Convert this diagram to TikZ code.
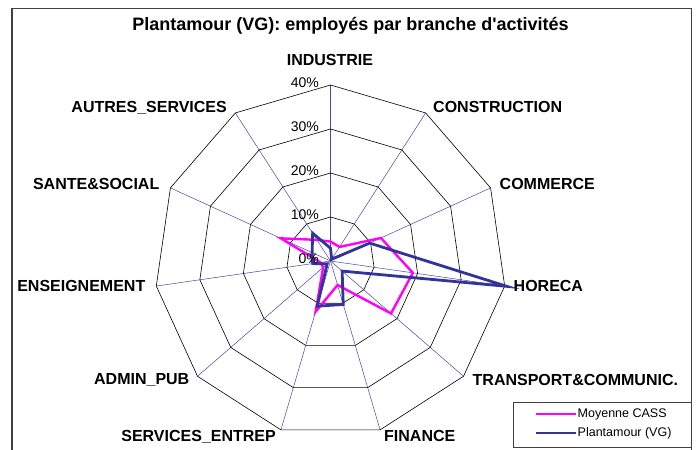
\documentclass[tikz,border=0pt]{standalone}
\usepackage{fontspec}
\setmainfont{Liberation Sans}[Ligatures=TeXOff]
\usetikzlibrary{calc}
\definecolor{axisblue}{HTML}{4848A8}
\definecolor{dataBlue}{HTML}{333399}
\definecolor{dataMag}{HTML}{FF00FF}
\definecolor{frameGray}{HTML}{404040}
\tikzset{
  catlabel/.style={font=\bfseries\fontsize{16}{18}\selectfont, inner sep=0pt},
  pctlabel/.style={font=\fontsize{14}{16}\selectfont, inner sep=0pt, anchor=east},
  leglabel/.style={font=\fontsize{12.5}{14}\selectfont, inner sep=0pt, anchor=west},
  gridring/.style={black, line width=0.6pt},
  axisline/.style={axisblue, line width=0.5pt},
  magline/.style={dataMag, line width=2.4pt, line join=miter},
  blueline/.style={dataBlue, line width=2.8pt, line join=miter},
}
\begin{document}
\begin{tikzpicture}[x=1pt,y=-1pt]
\useasboundingbox (0,0) rectangle (697,450);
\fill[white] (0,0) rectangle (697,450);
% outer frame
\draw[frameGray, line width=1.3pt] (12,455) -- (12,8.5) -- (691.5,8.5) -- (691.5,455);
% title
\node[font=\bfseries\fontsize{18}{20}\selectfont, inner sep=0pt] (title) at (350.5,25.5) {Plantamour (VG): employés par branche d'activités};
% chart
\begin{scope}[shift={(330.5,261)}]
  \coordinate (C) at (0,0);
  \foreach \k in {0,...,10}
    \draw[axisline] (C) -- ({\k*360/11-90}:176);
  \foreach \r in {44,88,132,176}
    \draw[gridring] (-90:\r) \foreach \k in {1,...,10}{ -- ({\k*360/11-90}:\r)} -- cycle;
  % Moyenne CASS
  \draw[magline] (-90:19.4) -- (-57.27:16.7) -- (-24.55:55.4) -- (8.18:83.2)
    -- (40.91:80.1) -- (73.64:25.1) -- (106.36:52.8) -- (139.09:9.7)
    -- (171.82:10.1) -- (204.55:54.6) -- (237.27:25.1) -- cycle;
  % Plantamour (VG)
  \draw[blueline] (-90:12.8) -- (-57.27:2.2) -- (-24.55:43.1) -- (8.18:178.2)
    -- (40.91:15.4) -- (73.64:45.3) -- (106.36:47.1) -- (139.09:4.4)
    -- (171.82:18) -- (204.55:20.2) -- (237.27:33) -- cycle;
\end{scope}
% percent labels
\node[pctlabel] (p40) at (319,83) {40\%};
\node[pctlabel] (p30) at (319,127) {30\%};
\node[pctlabel] (p20) at (319,171) {20\%};
\node[pctlabel] (p10) at (319,215) {10\%};
\node[pctlabel] (p0) at (319,259) {0\%};
% category labels
\node[catlabel] (l0) at (330,60) {INDUSTRIE};
\node[catlabel, anchor=west] (l1) at (433,106.5) {CONSTRUCTION};
\node[catlabel, anchor=west] (l2) at (499.5,183.5) {COMMERCE};
\node[catlabel, anchor=west] (l3) at (513.5,285.5) {HORECA};
\node[catlabel, anchor=west] (l4) at (472.5,379.5) {TRANSPORT\&COMMUNIC.};
\node[catlabel, anchor=west] (l5) at (384,436) {FINANCE};
\node[catlabel, anchor=east] (l6) at (276,436.5) {SERVICES\_ENTREP};
\node[catlabel, anchor=east] (l7) at (189.5,379.5) {ADMIN\_PUB};
\node[catlabel, anchor=east] (l8) at (145.5,285.5) {ENSEIGNEMENT};
\node[catlabel, anchor=east] (l9) at (159.5,184) {SANTE\&SOCIAL};
\node[catlabel, anchor=east] (l10) at (227,107.5) {AUTRES\_SERVICES};
% legend
\draw[frameGray, line width=0.8pt] (513,402) rectangle (691.5,447);
\coordinate (lm1) at (536,414);
\coordinate (lm2) at (576,414);
\coordinate (lb1) at (536,433);
\coordinate (lb2) at (576,433);
\draw[magline] (lm1) -- (lm2);
\draw[blueline] (lb1) -- (lb2);
\node[leglabel] (legM) at (577.5,414) {Moyenne CASS};
\node[leglabel] (legB) at (577.5,433) {Plantamour (VG)};
\end{tikzpicture}
\end{document}
